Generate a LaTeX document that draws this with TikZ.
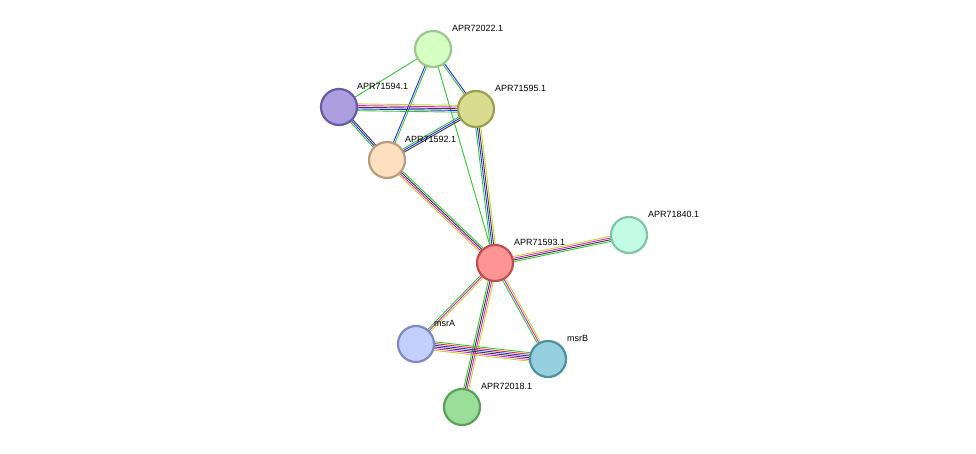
\documentclass[tikz,border=0pt]{standalone}
\usepackage{fontspec}
\setmainfont{Liberation Sans}
\usetikzlibrary{calc}
\definecolor{eg}{HTML}{33C633}
\definecolor{eb}{HTML}{2A2AF0}
\definecolor{ek}{HTML}{3A3A3A}
\definecolor{em}{HTML}{D81ED8}
\definecolor{ey}{HTML}{C4D42A}
\definecolor{er}{HTML}{F02A2A}
\definecolor{f1}{RGB}{214,255,196}\definecolor{d1}{RGB}{156,198,138}
\definecolor{f2}{RGB}{173,158,224}\definecolor{d2}{RGB}{106,90,166}
\definecolor{f3}{RGB}{217,220,142}\definecolor{d3}{RGB}{154,160,80}
\definecolor{f4}{RGB}{253,224,192}\definecolor{d4}{RGB}{184,156,128}
\definecolor{f5}{RGB}{255,148,148}\definecolor{d5}{RGB}{192,80,80}
\definecolor{f6}{RGB}{195,252,230}\definecolor{d6}{RGB}{128,196,168}
\definecolor{f7}{RGB}{195,208,255}\definecolor{d7}{RGB}{125,138,192}
\definecolor{f8}{RGB}{150,208,222}\definecolor{d8}{RGB}{78,143,160}
\definecolor{f9}{RGB}{154,222,154}\definecolor{d9}{RGB}{90,160,90}
\newcommand\medge[4]{%
 \foreach \c [count=\i] in {#4}{%
  \pgfmathsetmacro\o{(\i-(#3+1)/2)*1.7}%
  \draw[\c, line width=0.9pt] ($(#1)!\o pt!90:(#2)$) -- ($(#2)!\o pt!-90:(#1)$);
 }}
\tikzset{prot/.style={circle, minimum size=36pt, inner sep=0pt, line width=2.2pt},
 lbl/.style={anchor=west, font=\fontsize{9}{10}\selectfont, inner sep=1pt}}
\begin{document}
\begin{tikzpicture}[x=1pt,y=-1pt]
\useasboundingbox[fill=white] (0,0) rectangle (976,453);
\coordinate (a) at (433,49);
\coordinate (b) at (339,107);
\coordinate (c) at (476,109);
\coordinate (d) at (387,160);
\coordinate (e) at (495,263);
\coordinate (f) at (629,235);
\coordinate (g) at (416,344);
\coordinate (h) at (548,359);
\coordinate (i) at (462,407);
\medge{a}{b}{1}{eg}
\medge{a}{c}{2}{eg,eb}
\medge{a}{d}{2}{eb,eg}
\medge{a}{e}{1}{eg}
\medge{b}{c}{5}{eg,eb,ek,em,ey}
\medge{b}{d}{3}{eg,eb,ek}
\medge{c}{d}{3}{eg,eb,ek}
\medge{c}{e}{4}{eg,eb,ek,ey}
\medge{d}{e}{4}{ey,em,ek,eg}
\medge{e}{f}{4}{eg,ek,em,ey}
\medge{e}{g}{3}{eg,em,ey}
\medge{e}{h}{3}{eg,em,ey}
\medge{e}{i}{4}{eg,ek,em,ey}
\medge{g}{h}{6}{ey,em,ek,eb,er,eg}
\node[prot, fill=f1, draw=d1] (n1) at (a) {};
\node[prot, fill=f2, draw=d2] (n2) at (b) {};
\node[prot, fill=f3, draw=d3] (n3) at (c) {};
\node[prot, fill=f4, draw=d4] (n4) at (d) {};
\node[prot, fill=f5, draw=d5] (n5) at (e) {};
\node[prot, fill=f6, draw=d6] (n6) at (f) {};
\node[prot, fill=f7, draw=d7] (n7) at (g) {};
\node[prot, fill=f8, draw=d8] (n8) at (h) {};
\node[prot, fill=f9, draw=d9] (n9) at (i) {};
\node[lbl] (l1) at (451,28) {APR72022.1};
\node[lbl] (l2) at (356,86) {APR71594.1};
\node[lbl] (l3) at (494,88) {APR71595.1};
\node[lbl] (l4) at (404,139) {APR71592.1};
\node[lbl] (l5) at (513,242) {APR71593.1};
\node[lbl] (l6) at (647,214) {APR71840.1};
\node[lbl] (l7) at (433,323) {msrA};
\node[lbl] (l8) at (566,338) {msrB};
\node[lbl] (l9) at (480,386) {APR72018.1};
\end{tikzpicture}
\end{document}
